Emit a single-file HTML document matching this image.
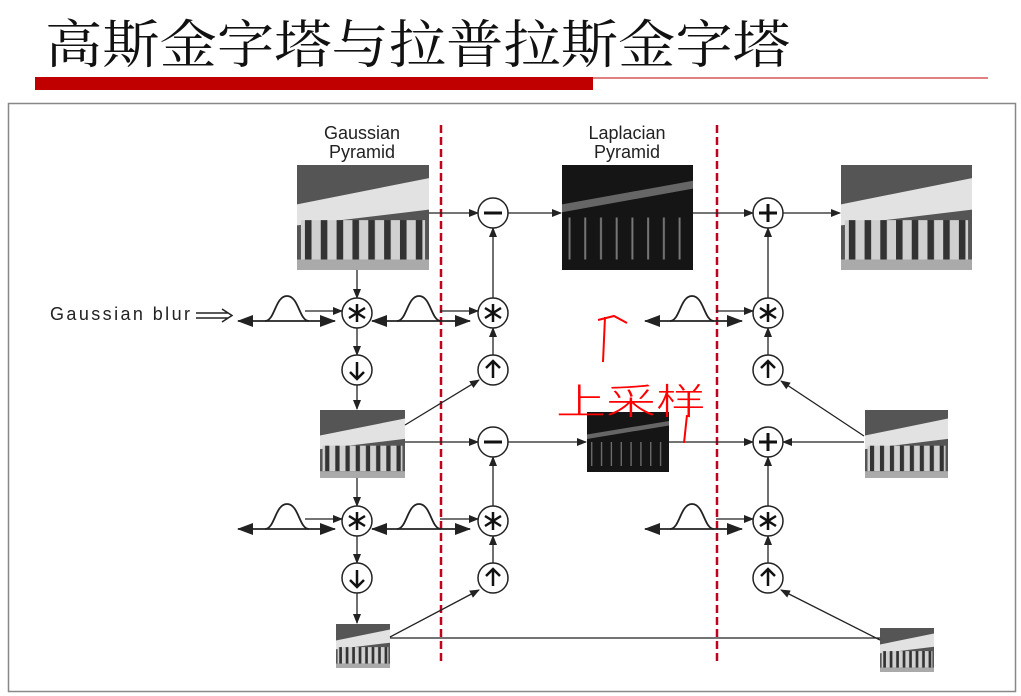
<!DOCTYPE html>
<html><head><meta charset="utf-8"><style>
html,body{margin:0;padding:0;background:#fff;width:1021px;height:696px;overflow:hidden}
svg{display:block}
</style></head><body>
<svg width="1021" height="696" viewBox="0 0 1021 696" xmlns="http://www.w3.org/2000/svg" font-family="Liberation Sans, DejaVu Sans, sans-serif">
<defs>
<marker id="a" markerWidth="10" markerHeight="8" refX="9" refY="4" orient="auto" markerUnits="userSpaceOnUse"><path d="M0,0 L10,4 L0,8 Z" fill="#222"/></marker>
<marker id="b" markerWidth="16" markerHeight="12" refX="15" refY="6" orient="auto-start-reverse" markerUnits="userSpaceOnUse"><path d="M0,0 L16,6 L0,12 Z" fill="#222"/></marker>
<pattern id="cols" width="12" height="10" patternUnits="userSpaceOnUse"><rect width="12" height="10" fill="#d0d0d0"/><rect x="6" width="5" height="10" fill="#333"/></pattern>
<pattern id="lcols" width="12" height="10" patternUnits="userSpaceOnUse"><rect width="12" height="10" fill="#151515"/><rect x="5" width="1.5" height="10" fill="#777"/></pattern>
<symbol id="img" viewBox="0 0 100 80" preserveAspectRatio="none">
<rect width="100" height="80" fill="#555"/><polygon points="0,30 100,10 100,34 0,46" fill="#e2e2e2"/><rect x="3" y="42" width="94" height="30" fill="url(#cols)"/><rect y="72" width="100" height="8" fill="#aaa"/>
</symbol>
<symbol id="lap" viewBox="0 0 100 80" preserveAspectRatio="none">
<rect width="100" height="80" fill="#151515"/><polygon points="0,30 100,12 100,18 0,36" fill="#666"/><rect x="3" y="40" width="94" height="32" fill="url(#lcols)"/>
</symbol>
</defs>
<text x="45" y="63" font-size="52" textLength="745" lengthAdjust="spacingAndGlyphs" font-family="Liberation Serif, Noto Serif CJK SC, serif" fill="#111">高斯金字塔与拉普拉斯金字塔</text>
<rect x="35" y="77" width="558" height="13" fill="#c00000"/>
<line x1="593" y1="78" x2="988" y2="78" stroke="#c00000" stroke-width="1"/>
<rect x="8.5" y="103.5" width="1007" height="588" fill="none" stroke="#888" stroke-width="1.5"/>
<g font-size="18" fill="#222" text-anchor="middle">
<text x="362" y="139">Gaussian</text><text x="362" y="158">Pyramid</text>
<text x="627" y="139">Laplacian</text><text x="627" y="158">Pyramid</text>
</g>
<text x="50" y="320" font-size="18" textLength="140" fill="#222">Gaussian blur</text>
<path d="M196,313 L228,313 M196,318 L228,318 M222,309 L232,315.5 L222,322" stroke="#222" stroke-width="1.5" fill="none"/>
<g stroke="#c00020" stroke-width="2.5" stroke-dasharray="8,4">
<line x1="441" y1="125" x2="441" y2="665"/><line x1="717" y1="125" x2="717" y2="665"/>
</g>
<use href="#img" x="297" y="165" width="132" height="105"/>
<use href="#lap" x="562" y="165" width="131" height="105"/>
<use href="#img" x="841" y="165" width="131" height="105"/>
<use href="#img" x="320" y="410" width="85" height="68"/>
<use href="#lap" x="587" y="412" width="82" height="60"/>
<use href="#img" x="865" y="410" width="83" height="68"/>
<use href="#img" x="336" y="624" width="54" height="44"/>
<use href="#img" x="880" y="628" width="54" height="44"/>
<g stroke="#222" stroke-width="1.3" fill="none" marker-end="url(#a)">
<line x1="429" y1="213" x2="478" y2="213"/>
<line x1="508" y1="213" x2="561" y2="213"/>
<line x1="693" y1="213" x2="753" y2="213"/>
<line x1="783" y1="213" x2="840" y2="213"/>
<line x1="357" y1="270" x2="357" y2="298"/>
<line x1="357" y1="328" x2="357" y2="355"/>
<line x1="357" y1="385" x2="357" y2="409"/>
<line x1="357" y1="478" x2="357" y2="506"/>
<line x1="357" y1="536" x2="357" y2="563"/>
<line x1="357" y1="593" x2="357" y2="623"/>
<line x1="493" y1="298" x2="493" y2="228"/>
<line x1="493" y1="355" x2="493" y2="328"/>
<line x1="405" y1="425" x2="479" y2="380"/>
<line x1="405" y1="442" x2="478" y2="442"/>
<line x1="508" y1="442" x2="586" y2="442"/>
<line x1="669" y1="442" x2="753" y2="442"/>
<line x1="864" y1="442" x2="783" y2="442"/>
<line x1="493" y1="506" x2="493" y2="457"/>
<line x1="493" y1="563" x2="493" y2="536"/>
<line x1="390" y1="637" x2="479" y2="590"/>
<line x1="768" y1="298" x2="768" y2="228"/>
<line x1="768" y1="355" x2="768" y2="328"/>
<line x1="864" y1="436" x2="781" y2="381"/>
<line x1="768" y1="506" x2="768" y2="457"/>
<line x1="768" y1="563" x2="768" y2="536"/>
<line x1="880" y1="640" x2="781" y2="590"/>
<line x1="305" y1="311" x2="342" y2="311"/>
<line x1="440" y1="311" x2="478" y2="311"/>
<line x1="716" y1="311" x2="753" y2="311"/>
<line x1="305" y1="519" x2="342" y2="519"/>
<line x1="440" y1="519" x2="478" y2="519"/>
<line x1="716" y1="519" x2="753" y2="519"/>
</g>
<line x1="390" y1="638" x2="880" y2="638" stroke="#222" stroke-width="1.3"/>
<g stroke="#222" stroke-width="1.8" fill="none">
<line x1="238" y1="321" x2="335" y2="321" marker-start="url(#b)" marker-end="url(#b)"/>
<line x1="372" y1="321" x2="470" y2="321" marker-start="url(#b)" marker-end="url(#b)"/>
<line x1="645" y1="321" x2="742" y2="321" marker-start="url(#b)" marker-end="url(#b)"/>
<line x1="238" y1="529" x2="335" y2="529" marker-start="url(#b)" marker-end="url(#b)"/>
<line x1="372" y1="529" x2="470" y2="529" marker-start="url(#b)" marker-end="url(#b)"/>
<line x1="645" y1="529" x2="742" y2="529" marker-start="url(#b)" marker-end="url(#b)"/>
<path d="M265,321 C275,321 275,296 287,296 C299,296 299,321 309,321"/>
<path d="M397,321 C407,321 407,296 419,296 C431,296 431,321 441,321"/>
<path d="M670,321 C680,321 680,296 692,296 C704,296 704,321 714,321"/>
<path d="M265,529 C275,529 275,504 287,504 C299,504 299,529 309,529"/>
<path d="M397,529 C407,529 407,504 419,504 C431,504 431,529 441,529"/>
<path d="M670,529 C680,529 680,504 692,504 C704,504 704,529 714,529"/>
</g>
<g stroke="#222" stroke-width="1.5" fill="#fff">
<circle cx="493" cy="213" r="15"/><circle cx="768" cy="213" r="15"/>
<circle cx="357" cy="313" r="15"/><circle cx="493" cy="313" r="15"/><circle cx="768" cy="313" r="15"/>
<circle cx="357" cy="370" r="15"/><circle cx="493" cy="370" r="15"/><circle cx="768" cy="370" r="15"/>
<circle cx="493" cy="442" r="15"/><circle cx="768" cy="442" r="15"/>
<circle cx="357" cy="521" r="15"/><circle cx="493" cy="521" r="15"/><circle cx="768" cy="521" r="15"/>
<circle cx="357" cy="578" r="15"/><circle cx="493" cy="578" r="15"/><circle cx="768" cy="578" r="15"/>
</g>
<g stroke="#111" stroke-width="3" fill="none">
<path d="M484,213 H502 M759,213 H777 M768,204 V222 M484,442 H502 M759,442 H777 M768,433 V451"/>
<g stroke-width="2.5">
<path d="M357,362 V379 M350,372 L357,379 L364,372 M357,570 V587 M350,580 L357,587 L364,580"/>
<path d="M493,378 V361 M486,368 L493,361 L500,368 M493,586 V569 M486,576 L493,569 L500,576"/>
<path d="M768,378 V361 M761,368 L768,361 L775,368 M768,586 V569 M761,576 L768,569 L775,576"/>
</g>
</g>
<g stroke="#111" stroke-width="2.5">
<path d="M357,304 V322 M349,308 L365,318 M349,318 L365,308"/>
<path d="M493,304 V322 M485,308 L501,318 M485,318 L501,308"/>
<path d="M768,304 V322 M760,308 L776,318 M760,318 L776,308"/>
<path d="M357,512 V530 M349,516 L365,526 M349,526 L365,516"/>
<path d="M493,512 V530 M485,516 L501,526 M485,526 L501,516"/>
<path d="M768,512 V530 M760,516 L776,526 M760,526 L776,516"/>
</g>
<g stroke="#f00" stroke-width="2" fill="none">
<path d="M603,362 L605,317 M598,320 L614,316 L627,323"/>
</g>
<text x="556" y="414" font-size="36" textLength="150" lengthAdjust="spacingAndGlyphs" fill="#f00" font-family="Noto Sans CJK SC, sans-serif" font-weight="300">上采样</text>
<line x1="687" y1="415" x2="684" y2="443" stroke="#f00" stroke-width="2"/>
</svg>
</body></html>
